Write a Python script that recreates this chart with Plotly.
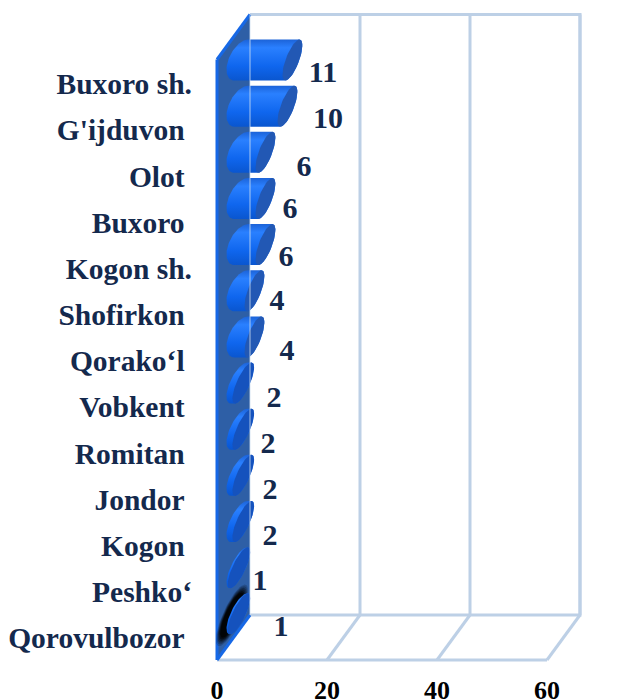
import numpy as np
import plotly.graph_objects as go

categories = ["Buxoro sh.", "G'ijduvon", "Olot", "Buxoro", "Kogon sh.", "Shofirkon", "Qorako‘l",
              "Vobkent", "Romitan", "Jondor", "Kogon", "Peshko‘", "Qorovulbozor"]
values = [11, 10, 6, 6, 6, 4, 4, 2, 2, 2, 2, 1, 1]
# drawn length of each bar, read against the 0-60 axis
bar_lengths = [9.3, 8.4, 4.4, 4.4, 4.4, 2.4, 2.4, 0.75, 0.75, 0.75, 0.75, 0.1, 0.1]
x_ticks = [0, 20, 40, 60]

# layout constants
W, H = 623, 700
PX_X, X0_PX = 5.5, 217
PX_Y, Y0_PX = 46.15, 83
def xv(px): return (px - X0_PX) / PX_X
def yv(px): return (px - Y0_PX) / PX_Y
DX, DY = 6, -0.975          # depth vector of the 3D box
Y_BOT, Y_TOP = yv(660), yv(59.5)
GRID = "#bdd0e6"
NAVY = "#14294d"
pad_right = {"Buxoro sh.", "Kogon sh.", "Peshko‘"}
label_px = [(323, 74), (328, 120), (304, 168), (290, 210), (286, 258), (277, 302), (287, 352),
            (274, 399), (268, 445), (270, 491), (270, 537), (260, 582), (281, 628)]

fig = go.Figure()

def line(xs, ys, color=GRID, width=3, opacity=1.0):
    fig.add_trace(go.Scatter(x=xs, y=ys, mode="lines", line=dict(color=color, width=width),
                             opacity=opacity, hoverinfo="skip", showlegend=False))

def poly(xs, ys, color=None, grad=None, opacity=1.0):
    kw = dict(fillgradient=grad) if grad else dict(fillcolor=color)
    fig.add_trace(go.Scatter(x=xs, y=ys, mode="lines", fill="toself", line=dict(width=0),
                             opacity=opacity, hoverinfo="skip", showlegend=False, **kw))

# back wall, floor
line([DX, DX + 60, DX + 60, DX], [Y_TOP + DY, Y_TOP + DY, Y_BOT + DY, Y_BOT + DY])
for t in x_ticks[1:]:
    line([t + DX, t + DX], [Y_TOP + DY, Y_BOT + DY])
    line([t, t + DX], [Y_BOT, Y_BOT + DY])
line([0, 60], [Y_BOT, Y_BOT])

# side wall
poly([0, DX, DX, 0, 0], [Y_TOP, Y_TOP + DY, Y_BOT + DY, Y_BOT, Y_TOP], color="#2e5fa6")
line([0, DX], [Y_TOP, Y_TOP + DY], color="#1668e6", width=3)
line([0, DX], [Y_BOT, Y_BOT + DY], color="#1668e6", width=3)
line([0, 0], [Y_TOP, Y_BOT], color="#1668e6", width=3)

# bars as skewed cylinders
R_Y = 20.5
BAR_LEFT_PX = 226.5
BAR_SHIFT = -23 / PX_Y
def ell(cx_px_value, cy, u_px, v_px, t):
    return (cx_px_value + (u_px * np.cos(t) + v_px * np.sin(t)) / PX_X, cy - R_Y / PX_Y * np.cos(t))

# shadow behind the last bar
n = len(categories) - 1
sy = n + BAR_SHIFT + 1.5 / PX_Y
T = np.linspace(0, 2 * np.pi, 61)
for s, o in zip([1.5, 1.42, 1.34, 1.26, 1.18, 1.1], [0.18, 0.22, 0.28, 0.35, 0.5, 0.7]):
    ex, ey = ell(xv(232), sy, 8.5 * s, 6.5 * s, T)
    ey = sy + (ey - sy) * s
    poly(ex, ey, color="#000000", opacity=o)

body_grad = dict(type="vertical",
                 colorscale=[[0, "#0a56cf"], [0.35, "#0f66ee"], [0.8, "#2a80ff"], [1, "#1c63d8"]])
for i, L in enumerate(bar_lengths):
    cy = i + BAR_SHIFT
    k = min(L, 2.4) / 2.4
    u = 8.8 - 1.8 * k
    v_left = 8 + 5 * k
    v_cap = 7.0
    x0 = xv(BAR_LEFT_PX + np.hypot(u, v_left))
    x1 = x0 + L
    lx, ly = ell(x0, cy, u, v_left, np.linspace(0, -np.pi, 40))
    rx, ry = ell(x1, cy, u, v_cap, np.linspace(np.pi, 0, 40))
    bx = np.concatenate([lx, rx, lx[:1]]); by = np.concatenate([ly, ry, ly[:1]])
    poly(bx, by, grad=body_grad)
    ex, ey = ell(x1, cy, u, v_cap, T)
    poly(ex, ey, color="#2258b4" if L > 2 else "#1552bd")

line([DX, DX], [Y_TOP + DY, Y_BOT + DY], color="#cfe0f2", width=2, opacity=0.4)

# value labels
fig.add_trace(go.Scatter(
    x=[xv(p[0]) for p in label_px], y=[yv(p[1]) for p in label_px],
    mode="text", text=[str(v) for v in values], textposition="middle center",
    textfont=dict(family="Liberation Serif", size=30, color=NAVY, weight="bold"),
    hoverinfo="skip", showlegend=False))

fig.update_layout(
    width=W, height=H, margin=dict(l=0, r=0, t=0, b=0, autoexpand=False),
    paper_bgcolor="white", plot_bgcolor="white", showlegend=False,
    xaxis=dict(range=[xv(0), xv(W)], domain=[0, 1], anchor="free", position=1 - 660 / H,
               tickmode="array", tickvals=x_ticks, ticktext=[str(t) for t in x_ticks],
               tickfont=dict(family="Liberation Serif", size=26, color="#000000", weight="bold"),
               showgrid=False, zeroline=False, showline=False, ticks="", ticklabelstandoff=12),
    yaxis=dict(range=[yv(H), yv(0)], domain=[0, 1], anchor="free", position=192 / W,
               tickmode="array", tickvals=[i + 1 / PX_Y for i in range(len(categories))],
               ticktext=[c if c in pad_right else c + "\u00a0" for c in categories],
               tickfont=dict(family="Liberation Serif", size=29.5, color=NAVY, weight="bold"),
               showgrid=False, zeroline=False, showline=False, ticks=""),
)
fig.write_html("out.html", config=dict(displayModeBar=False),
               post_script="document.body.style.margin='0';")
